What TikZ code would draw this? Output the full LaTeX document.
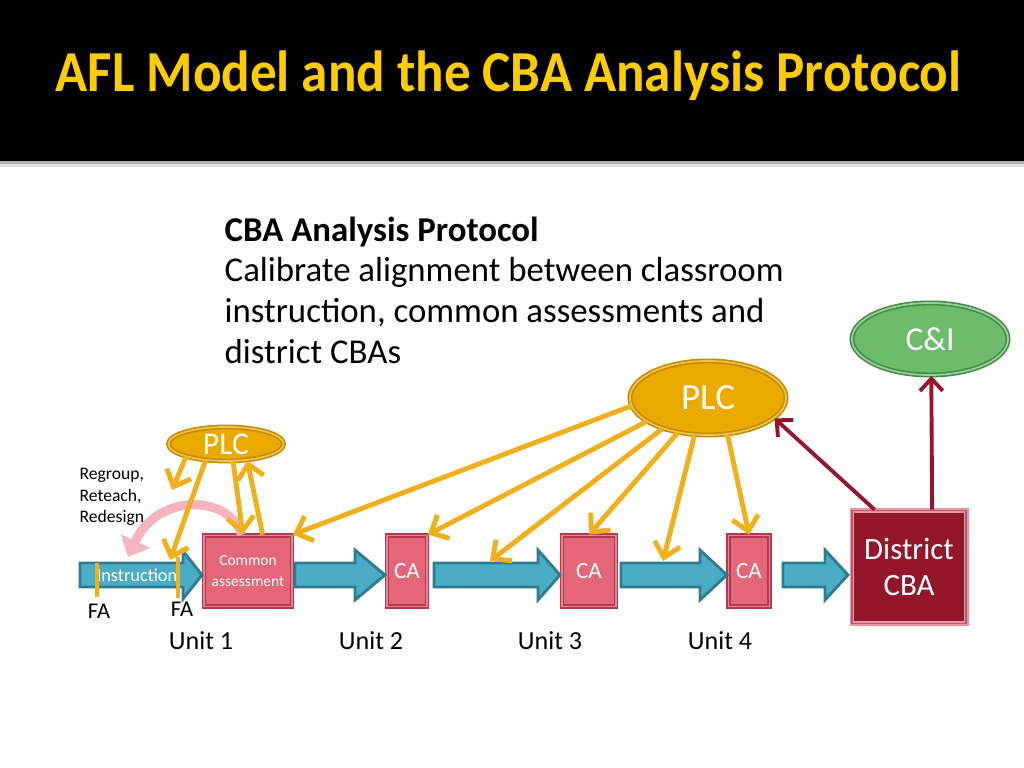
\documentclass[tikz,border=0pt]{standalone}
\usepackage{fontspec}
\setmainfont{Carlito}
\usepackage{tikz}
\usetikzlibrary{arrows.meta,shapes.geometric}
\definecolor{titlegold}{RGB}{255,204,0}
\definecolor{plcfill}{RGB}{234,170,0}
\definecolor{plcedge}{RGB}{196,138,0}
\definecolor{plcline}{RGB}{240,176,30}
\definecolor{cifill}{RGB}{108,188,108}
\definecolor{ciedge}{RGB}{66,138,70}
\definecolor{flowfill}{RGB}{75,172,198}
\definecolor{flowedge}{RGB}{46,124,148}
\definecolor{boxred}{RGB}{228,102,120}
\definecolor{boxedge}{RGB}{176,58,80}
\definecolor{cbared}{RGB}{148,22,42}
\definecolor{cbaedge}{RGB}{232,150,162}
\definecolor{loopink}{RGB}{244,180,192}

\begin{document}
\begin{tikzpicture}[x={(0.01cm,0)}, y={(0,-0.01cm)},
    box/.style={draw=boxedge, fill=boxred, double=boxred!80!white, double distance=0.5pt,
      line width=0.45pt, text=white, align=center, inner sep=0pt, minimum height=0.71cm},
    oval/.style={ellipse, text=white, inner sep=0pt, double distance=0.5pt, line width=0.45pt},
    flow/.style={draw=flowedge, fill=flowfill, line width=0.8pt, line join=miter},
    plcarrow/.style={plcline, line width=1.4pt, -{Straight Barb[length=4pt,width=7.5pt]}},
    cbaarrow/.style={cbared, line width=1.1pt, -{Straight Barb[length=3.5pt,width=6.5pt]}},
    famark/.style={plcline, line width=1pt}]
  \useasboundingbox (0,0) rectangle (1024,768);

  % Header
  \fill[black] (0,0) rectangle (1024,161);
  \fill[gray!60] (0,161) rectangle (1024,164);
  \fill[gray!25] (0,164) rectangle (1024,167);
  \node[anchor=base west, inner sep=0pt, text=titlegold, xscale=0.915,
    font=\fontsize{16.5}{19}\bfseries\selectfont] (title) at (55,92)
    {AFL Model and the CBA Analysis Protocol};

  % Protocol text
  \node[anchor=north west, align=left, inner sep=0pt,
    font=\fontsize{9.9}{11.6}\selectfont] (protocol) at (224,216)
    {\textbf{CBA Analysis Protocol}\\
     Calibrate alignment between classroom\\
     instruction, common assessments and\\
     district CBAs};

  % Ovals
  \node[oval, draw=plcedge, fill=plcfill, double=plcfill!70!white,
    minimum width=1.56cm, minimum height=0.74cm,
    font=\fontsize{10.5}{12}\selectfont] (plcbig) at (708,398) {PLC};
  \node[oval, draw=plcedge, fill=plcfill, double=plcfill!70!white,
    minimum width=1.15cm, minimum height=0.34cm,
    font=\fontsize{9}{10}\selectfont] (plcsmall) at (226,444) {PLC};
  \node[oval, draw=ciedge, fill=cifill, double=cifill!70!white,
    minimum width=1.56cm, minimum height=0.72cm,
    font=\fontsize{9.5}{11}\selectfont] (ci) at (930,339) {C\&I};

  % Boxes
  \node[box, minimum width=0.88cm, font=\fontsize{4.4}{6}\selectfont]
    (common) at (248,571) {Common\\assessment};
  \node[box, minimum width=0.40cm, font=\fontsize{6.6}{8}\selectfont]
    (ca1) at (407,571) {CA};
  \node[box, minimum width=0.54cm, font=\fontsize{6.6}{8}\selectfont]
    (ca2) at (589,571) {CA};
  \node[box, minimum width=0.41cm, font=\fontsize{6.6}{8}\selectfont]
    (ca3) at (749,571) {CA};
  \node[box, draw=cbaedge, fill=cbared, double=cbared!70!white,
    minimum width=1.14cm, minimum height=1.13cm,
    font=\fontsize{8.8}{10.4}\selectfont] (district) at (909,567) {District\\CBA};

  % Flow arrows
  \draw[flow] (80,563) -- (183,563) -- (183,551) -- (202,575) -- (183,599)
    -- (183,587) -- (80,587) -- cycle;
  \node[text=white, font=\fontsize{5.2}{6.5}\selectfont, inner sep=0pt]
    (instruction) at (137,575) {Instruction};
  \draw[flow] (295,563) -- (355,563) -- (355,550) -- (385,575) -- (355,600)
    -- (355,587) -- (295,587) -- cycle;
  \draw[flow] (434,563) -- (538,563) -- (538,550) -- (560,575) -- (538,600)
    -- (538,587) -- (434,587) -- cycle;
  \draw[flow] (621,563) -- (700,563) -- (700,550) -- (727,575) -- (700,600)
    -- (700,587) -- (621,587) -- cycle;
  \draw[flow] (783,563) -- (825,563) -- (825,550) -- (848,575) -- (825,600)
    -- (825,587) -- (783,587) -- cycle;

  % Formative assessment marks
  \draw[famark] (97,563) -- (97,597);
  \draw[famark] (178,557) -- (178,598);
  \node[font=\fontsize{6.4}{7.5}\selectfont] (fa1) at (99,611) {FA};
  \node[font=\fontsize{6.4}{7.5}\selectfont] (fa2) at (182,609) {FA};

  % Regroup loop
  \node[anchor=north west, align=left, inner sep=0pt,
    font=\fontsize{5}{6}\selectfont] (regroup) at (79,468)
    {Regroup,\\Reteach,\\Redesign};
  \coordinate (loopend) at (128,557);
  \draw[loopink, line width=2.6pt, -{Triangle[length=5pt,width=9pt]}]
    (common.100) .. controls (230,495) and (158,492) .. (loopend);

  % Unit labels
  \node[font=\fontsize{7.4}{9}\selectfont] (unit1) at (201,641) {Unit 1};
  \node[font=\fontsize{7.4}{9}\selectfont] (unit2) at (371,641) {Unit 2};
  \node[font=\fontsize{7.4}{9}\selectfont] (unit3) at (550,641) {Unit 3};
  \node[font=\fontsize{7.4}{9}\selectfont] (unit4) at (720,641) {Unit 4};

  % Small PLC arrows
  \coordinate (instr1) at (172,490);
  \coordinate (instr2) at (170,560);
  \draw[plcarrow] (plcsmall.198) -- (instr1);
  \draw[plcarrow] (plcsmall.219) -- (instr2);
  \draw[plcarrow] (plcsmall.292) -- (common.98);
  \draw[plcarrow] (common.68) -- (plcsmall.322);

  % Big PLC arrows
  \coordinate (flow3) at (490,561);
  \coordinate (flow4) at (663,561);
  \draw[plcarrow] (plcbig.186) -- (common.north east);
  \draw[plcarrow] (plcbig.201) -- (ca1.north east);
  \draw[plcarrow] (plcbig.214) -- (flow3);
  \draw[plcarrow] (plcbig.229) -- (ca2.north);
  \draw[plcarrow] (plcbig.250) -- (flow4);
  \draw[plcarrow] (plcbig.298) -- (ca3.north);

  % District CBA arrows
  \draw[cbaarrow] (district.121) -- (plcbig.343);
  \draw[cbaarrow] (district.68) -- (ci.272);
\end{tikzpicture}
\end{document}
